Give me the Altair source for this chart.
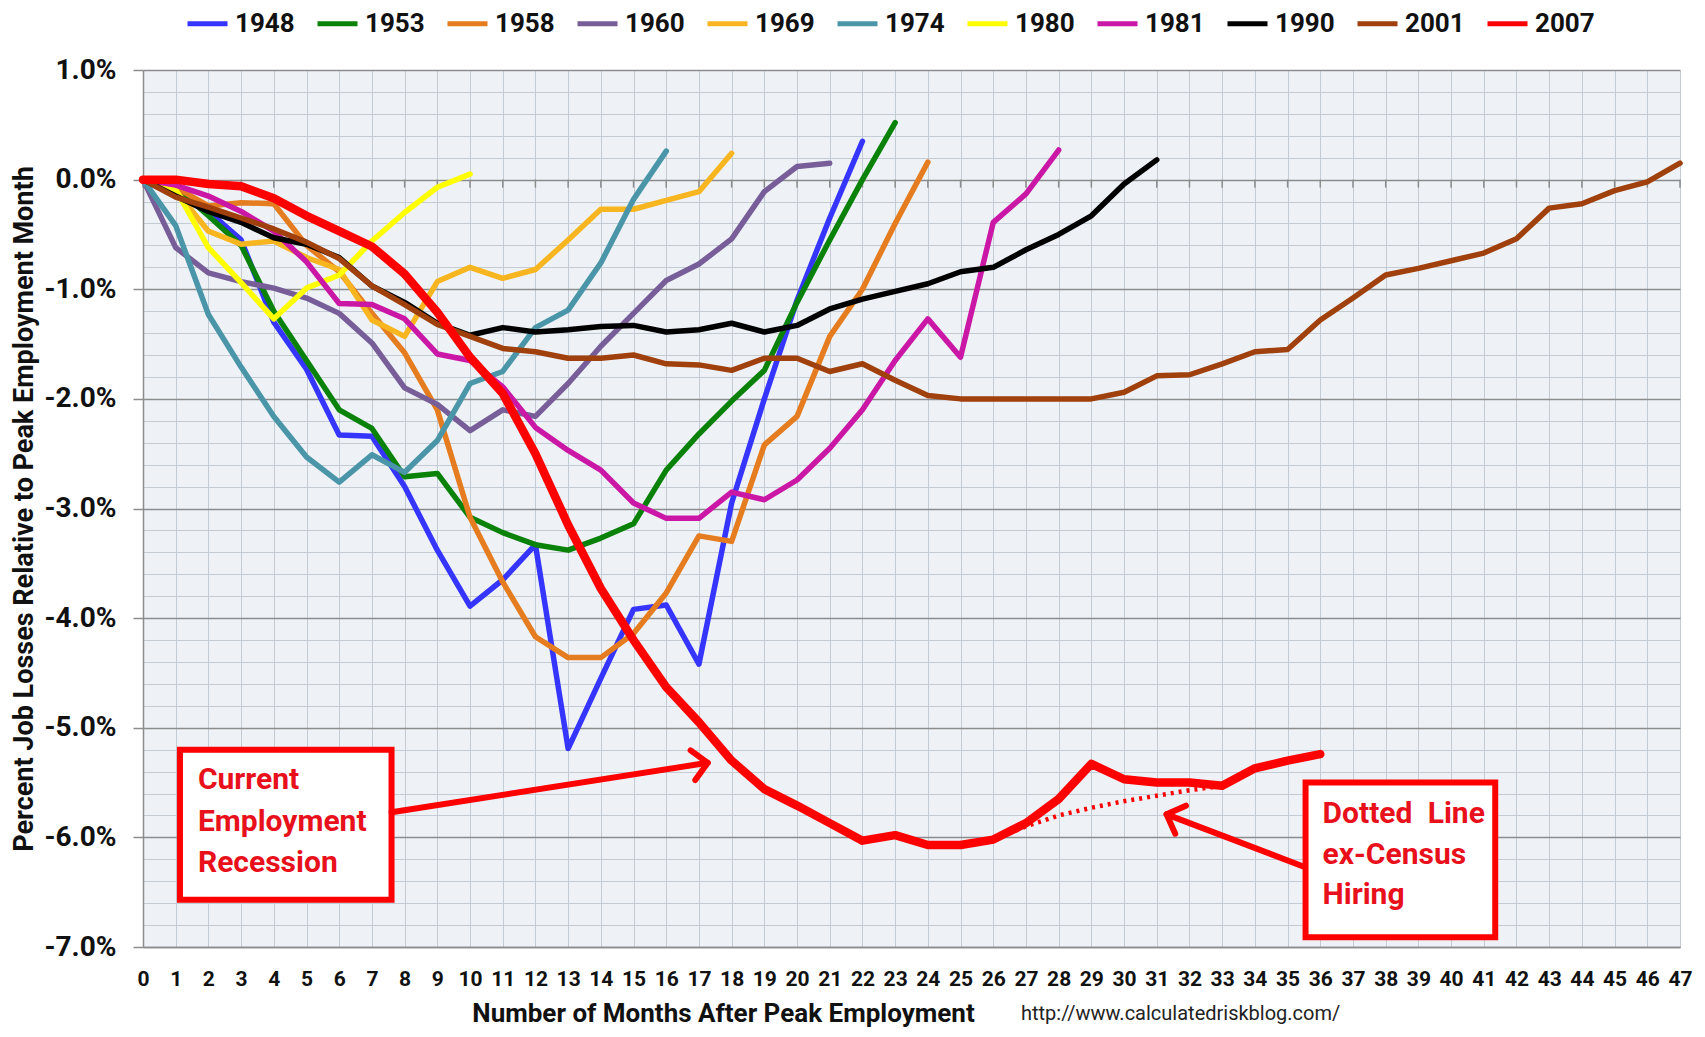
import math
import altair as alt
import pandas as pd

# ---------------- data ----------------
YEARS = ["1948", "1953", "1958", "1960", "1969", "1974", "1980", "1981", "1990", "2001", "2007"]
COLORS = ["#3535FF", "#0A820A", "#E57C1F", "#775E98", "#F7B520", "#4A96A8",
          "#FFFF00", "#CB17A6", "#000000", "#A0400C", "#FF0000"]

V1948 = [0, -0.05, -0.29, -0.55, -1.3, -1.73, -2.33, -2.34, -2.8, -3.38, -3.89, -3.65, -3.33,
         -5.19, -4.55, -3.92, -3.88, -4.42, -2.95, -2.0, -1.1, -0.35, 0.35]
V1953 = [0, -0.07, -0.33, -0.6, -1.2, -1.65, -2.1, -2.27, -2.71, -2.68, -3.08, -3.22, -3.33,
         -3.38, -3.27, -3.14, -2.65, -2.32, -2.02, -1.74, -1.12, -0.55, 0.0, 0.52]
V1958 = [0, -0.07, -0.24, -0.21, -0.22, -0.6, -0.84, -1.22, -1.58, -2.1, -3.08, -3.67, -4.17,
         -4.36, -4.36, -4.14, -3.77, -3.25, -3.3, -2.42, -2.16, -1.43, -1.0, -0.4, 0.16]
V1960 = [0, -0.62, -0.85, -0.93, -0.99, -1.08, -1.22, -1.49, -1.9, -2.05, -2.29, -2.1, -2.16,
         -1.86, -1.52, -1.22, -0.92, -0.77, -0.54, -0.11, 0.12, 0.15]
V1969 = [0, -0.1, -0.47, -0.59, -0.56, -0.71, -0.82, -1.28, -1.43, -0.93, -0.8, -0.9, -0.82,
         -0.55, -0.27, -0.27, -0.19, -0.11, 0.24]
V1974 = [0, -0.42, -1.23, -1.71, -2.16, -2.53, -2.76, -2.51, -2.67, -2.38, -1.86, -1.75, -1.35,
         -1.19, -0.76, -0.18, 0.26]
V1980 = [0, -0.09, -0.62, -0.94, -1.27, -0.99, -0.87, -0.56, -0.3, -0.07, 0.05]
V1981 = [0, -0.05, -0.15, -0.29, -0.47, -0.75, -1.13, -1.14, -1.27, -1.59, -1.65, -1.89, -2.26,
         -2.47, -2.65, -2.95, -3.09, -3.09, -2.85, -2.92, -2.74, -2.45, -2.1, -1.65, -1.27,
         -1.62, -0.39, -0.13, 0.27]
V1990 = [0, -0.15, -0.29, -0.39, -0.53, -0.59, -0.71, -0.97, -1.12, -1.31, -1.42, -1.35, -1.39,
         -1.37, -1.34, -1.33, -1.39, -1.37, -1.31, -1.39, -1.33, -1.18, -1.09, -1.02, -0.95,
         -0.84, -0.8, -0.64, -0.5, -0.33, -0.04, 0.18]
V2001 = [0, -0.16, -0.25, -0.35, -0.45, -0.57, -0.72, -0.97, -1.14, -1.32, -1.43, -1.54, -1.57,
         -1.63, -1.63, -1.6, -1.68, -1.69, -1.74, -1.63, -1.63, -1.75, -1.68, -1.83, -1.97,
         -2.0, -2.0, -2.0, -2.0, -2.0, -1.94, -1.79, -1.78, -1.68, -1.57, -1.55, -1.28, -1.08,
         -0.87, -0.81, -0.74, -0.67, -0.54, -0.26, -0.22, -0.1, -0.02, 0.15]
V2007 = [0, 0.0, -0.04, -0.06, -0.17, -0.33, -0.47, -0.61, -0.86, -1.21, -1.62, -1.95, -2.5,
         -3.15, -3.73, -4.2, -4.63, -4.95, -5.3, -5.56, -5.71, -5.87, -6.03, -5.98, -6.07,
         -6.07, -6.02, -5.87, -5.65, -5.33, -5.47, -5.5, -5.5, -5.53, -5.37, -5.3, -5.24]

SERIES = dict(zip(YEARS, [V1948, V1953, V1958, V1960, V1969, V1974, V1980, V1981, V1990, V2001, V2007]))

# ex-Census dotted line
DOT_MONTHS = [26, 27, 28, 29, 30, 31, 32, 33]
DOT_VALUES = [-6.02, -5.9, -5.8, -5.73, -5.67, -5.62, -5.57, -5.53]

X_TICKS = list(range(0, 48))
Y_GRID = [round(-7 + 0.2 * i, 1) for i in range(41)]

# annotations
BOX_X1 = [1.13, 35.55]
BOX_X2 = [7.6, 41.35]
BOX_Y1 = [-5.2, -5.5]
BOX_Y2 = [-6.57, -6.91]
TEXT_LABELS = ["Current", "Employment", "Recession", "Dotted\u2002Line", "ex-Census", "Hiring"]
TEXT_X = [1.68, 1.68, 1.68, 36.07, 36.07, 36.07]
TEXT_Y = [-5.48, -5.86, -6.23, -5.79, -6.16, -6.53]
ARROW_X1 = [7.6, 35.52]
ARROW_Y1 = [-5.77, -6.27]
ARROW_X2 = [17.27, 31.3]
ARROW_Y2 = [-5.32, -5.79]

URL = "http://www.calculatedriskblog.com/"

# ---------------- layout ----------------
W, H = 1537, 877
RED = "#FF0000"
TXT_RED = "#E8101A"
FONT = "Roboto"

rows = [{"series": y, "month": i, "value": v}
        for y in YEARS for i, v in enumerate(SERIES[y])]
df = pd.DataFrame(rows)
dot_df = pd.DataFrame({"month": DOT_MONTHS, "value": DOT_VALUES})
box_df = pd.DataFrame({"bx1": BOX_X1, "bx2": BOX_X2, "by1": BOX_Y1, "by2": BOX_Y2})
text_df = pd.DataFrame({"tx": TEXT_X, "ty": TEXT_Y, "label": TEXT_LABELS})
zero_ticks_df = pd.DataFrame({"month": X_TICKS, "value": [0.0] * len(X_TICKS)})

pxm = W / 47.0
pxp = H / 8.0
angles = []
for x1, y1, x2, y2 in zip(ARROW_X1, ARROW_Y1, ARROW_X2, ARROW_Y2):
    a = math.degrees(math.atan2(-(y2 - y1) * pxp, (x2 - x1) * pxm)) % 360
    angles.append(a)
arrow_df = pd.DataFrame({"ax1": ARROW_X1, "ay1": ARROW_Y1, "ax2": ARROW_X2,
                         "ay2": ARROW_Y2, "angle": angles})

MAJOR = "abs(datum.value - round(datum.value)) < 0.01"
GRID_MINOR = "#c3cbd5"
GRID_MAJOR = "#8c8c8c"

X_TITLE = "Number of Months After Peak Employment"
Y_TITLE = "Percent Job Losses Relative to Peak Employment Month"

x_axis = alt.Axis(
    values=X_TICKS, format="d", grid=True, gridColor=GRID_MINOR, gridWidth=1,
    ticks=False, tickSize=0, labelPadding=21, labelOverlap=False, labelFlush=False,
    labelFont=FONT, labelFontWeight="bold", labelFontSize=21, labelColor="#111",
    domain=True, domainColor=GRID_MAJOR, domainWidth=1.5,
    title=X_TITLE,
    titleFont=FONT, titleFontWeight="bold", titleFontSize=26, titleColor="#111",
    titleX=580, titleY=66, titleAlign="center", titleBaseline="middle",
)
y_axis = alt.Axis(
    values=Y_GRID, grid=True,
    gridColor={"condition": {"test": MAJOR, "value": GRID_MAJOR}, "value": GRID_MINOR},
    gridWidth={"condition": {"test": MAJOR, "value": 1.6}, "value": 1},
    tickColor={"condition": {"test": MAJOR, "value": GRID_MAJOR}, "value": "rgba(0,0,0,0)"},
    tickSize=10, tickWidth=1.5, labelOverlap=False, labelFlush=False,
    labelExpr=f"{MAJOR} ? (datum.value < 0 ? '-' : '') + format(abs(datum.value), '.1f') + '%' : ''",
    labelFont=FONT, labelFontWeight="bold", labelFontSize=28, labelColor="#111", labelPadding=17,
    domain=True, domainColor=GRID_MAJOR, domainWidth=1.5,
    title=Y_TITLE,
    titleFont=FONT, titleFontWeight="bold", titleFontSize=27, titleColor="#111",
    titleX=-119, titleY=H / 2, titleAngle=270, titleAlign="center", titleBaseline="middle",
)

xs = alt.Scale(domain=[0, 47], nice=False, zero=False)
ys = alt.Scale(domain=[-7, 1], nice=False, zero=False)


def X(field):
    return alt.X(field, scale=xs, axis=x_axis, title=X_TITLE)


def Y(field):
    return alt.Y(field, scale=ys, axis=y_axis, title=Y_TITLE)


color = alt.Color(
    "series:N",
    scale=alt.Scale(domain=YEARS, range=COLORS),
    legend=alt.Legend(
        orient="none", legendX=42, legendY=-69, direction="horizontal", columns=11,
        padding=0, title=None, symbolType="stroke", symbolSize=1600, symbolStrokeWidth=5,
        labelFont=FONT, labelFontWeight="bold", labelFontSize=26, labelColor="#111",
        labelOffset=5, columnPadding=12, gridAlign="all", labelLimit=300,
    ),
)

zero_ticks = alt.Chart(zero_ticks_df).mark_tick(
    orient="vertical", size=8, thickness=1.5, color=GRID_MAJOR, yOffset=4, opacity=1
).encode(x=X("month:Q"), y=Y("value:Q"))

others = alt.Chart(df).transform_filter(alt.datum.series != "2007").mark_line(
    strokeWidth=5.5, strokeJoin="round", strokeCap="round"
).encode(
    x=X("month:Q"), y=Y("value:Q"), color=color, order=alt.Order("month:Q"),
)

current = alt.Chart(df).transform_filter(alt.datum.series == "2007").mark_line(
    strokeWidth=8.5, strokeJoin="round", strokeCap="round"
).encode(
    x=X("month:Q"), y=Y("value:Q"), color=color, order=alt.Order("month:Q"),
)

dotted = alt.Chart(dot_df).mark_line(
    color=RED, strokeWidth=4.5, strokeDash=[3, 5]
).encode(x=X("month:Q"), y=Y("value:Q"))

boxes = alt.Chart(box_df).mark_rect(
    fill="white", stroke=RED, strokeWidth=6
).encode(x=X("bx1:Q"), x2="bx2:Q", y=Y("by1:Q"), y2="by2:Q")

texts = alt.Chart(text_df).mark_text(
    align="left", baseline="middle", font=FONT, fontWeight="bold", fontSize=30, color=TXT_RED
).encode(x=X("tx:Q"), y=Y("ty:Q"), text="label:N")

shafts = alt.Chart(arrow_df).mark_rule(color=RED, strokeWidth=6, strokeCap="round").encode(
    x=X("ax1:Q"), x2="ax2:Q", y=Y("ay1:Q"), y2="ay2:Q",
)

heads = alt.Chart(arrow_df).mark_point(
    shape="M-1,-1L0,0L-1,1", filled=False, size=900, strokeWidth=6, color=RED,
    opacity=1, strokeCap="round", strokeJoin="round"
).encode(
    x=X("ax2:Q"), y=Y("ay2:Q"), angle=alt.Angle("angle:Q", scale=None),
)

url = alt.Chart(pd.DataFrame({"t": [URL]})).mark_text(
    align="left", baseline="middle", font=FONT, fontSize=20, color="#222"
).encode(x=alt.value(878), y=alt.value(H + 67), text="t:N")

chart = alt.layer(zero_ticks, others, current, dotted, boxes, shafts, heads, texts, url).properties(
    width=W, height=H,
    autosize=alt.AutoSizeParams(type="none"),
    padding={"left": 135, "top": 62, "right": 17, "bottom": 82},
    background="white",
).configure_view(fill="#EEF2F7", stroke=None)

chart.save("out.html", embed_options={"renderer": "svg", "actions": False})
